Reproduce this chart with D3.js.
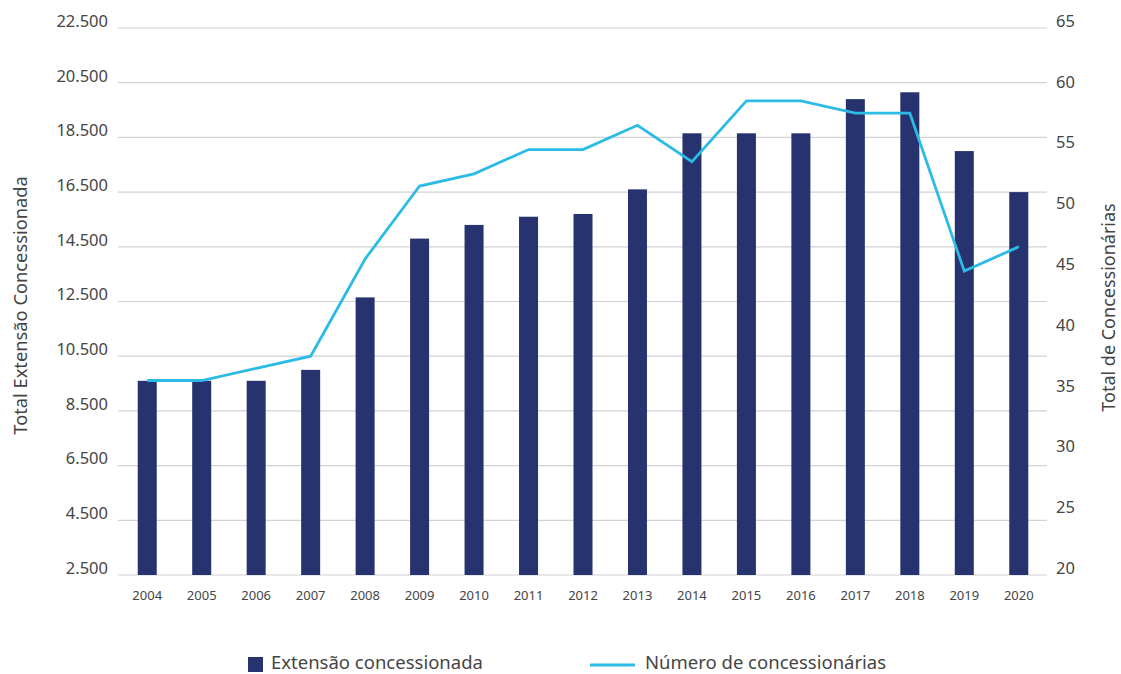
<!DOCTYPE html>
<html>
<head>
<meta charset="utf-8">
<script src="https://cdn.jsdelivr.net/npm/d3@7"></script>
<style>
  html, body { margin: 0; padding: 0; background: #fff; }
  svg { display: block; font-family: "Noto Sans", "Open Sans", sans-serif; }
</style>
</head>
<body>
<svg id="chart" width="1121" height="674"></svg>
<script>
// Rodovias concedidas: extensão total (km) e número de concessionárias por ano
const years = ["2004","2005","2006","2007","2008","2009","2010","2011","2012","2013","2014","2015","2016","2017","2018","2019","2020"];
const extensao = [9600, 9600, 9600, 10000, 12650, 14800, 15300, 15600, 15700, 16600, 18650, 18650, 18650, 19900, 20150, 18000, 16500];
const concessionarias = [36, 36, 37, 38, 46, 52, 53, 55, 55, 57, 54, 59, 59, 58, 58, 45, 47];
const leftTicks = [2500, 4500, 6500, 8500, 10500, 12500, 14500, 16500, 18500, 20500, 22500];
const rightTicks = [20, 25, 30, 35, 40, 45, 50, 55, 60, 65];
const leftTitle = "Total Extensão Concessionada";
const rightTitle = "Total de Concessionárias";
const legendLabels = ["Extensão concessionada", "Número de concessionárias"];

const barColor = "#27336f";
const lineColor = "#2cbbe6";
const gridColor = "#d2d2d6";
const textColor = "#454545";

const svg = d3.select("#chart");
const plot = { left: 118, right: 1047, top: 28, bottom: 575 };

const ptBR = d3.formatLocale({ decimal: ",", thousands: ".", grouping: [3], currency: ["R$", ""] });
const fmt = ptBR.format(",d");

const x = d3.scaleBand().domain(years).range([120, 1046]).paddingInner(0.651).paddingOuter(0.3255);
const yL = d3.scaleLinear().domain([2500, 22500]).range([plot.bottom, plot.top]);
const yR = d3.scaleLinear().domain([20, 65]).range([plot.bottom, plot.top]);

// grade horizontal
svg.append("g").selectAll("line").data(leftTicks).join("line")
  .attr("x1", plot.left).attr("x2", plot.right)
  .attr("y1", d => yL(d)).attr("y2", d => yL(d))
  .attr("stroke", gridColor).attr("stroke-width", 1.2);

// eixo esquerdo
const axL = svg.append("g").attr("transform", `translate(${plot.left - 10},0)`)
  .call(d3.axisLeft(yL).tickValues(leftTicks).tickFormat(fmt).tickSize(0).tickPadding(0));
axL.select(".domain").remove();
axL.selectAll("text").attr("fill", textColor).attr("font-size", 16.5).attr("font-family", "Noto Sans").attr("dy", "-0.1em");

// eixo direito
const axR = svg.append("g").attr("transform", `translate(${plot.right + 9},0)`)
  .call(d3.axisRight(yR).tickValues(rightTicks).tickSize(0).tickPadding(0));
axR.select(".domain").remove();
axR.selectAll("text").attr("fill", textColor).attr("font-size", 16.5).attr("font-family", "Noto Sans").attr("dy", "-0.1em");

// eixo x
const axX = svg.append("g").attr("transform", `translate(0,${plot.bottom + 16})`)
  .call(d3.axisBottom(x).tickSize(0).tickPadding(0));
axX.select(".domain").remove();
axX.selectAll("text").attr("fill", textColor).attr("font-size", 13).attr("font-family", "Noto Sans");

// barras
svg.append("g").selectAll("rect").data(years).join("rect")
  .attr("x", d => x(d)).attr("width", x.bandwidth())
  .attr("y", (d, i) => yL(extensao[i]))
  .attr("height", (d, i) => yL(2500) - yL(extensao[i]))
  .attr("fill", barColor);

// linha
const line = d3.line()
  .x((d, i) => x(years[i]) + x.bandwidth() / 2)
  .y(d => yR(d));
svg.append("path").datum(concessionarias)
  .attr("d", line).attr("fill", "none")
  .attr("stroke", lineColor).attr("stroke-width", 2.8).attr("stroke-linejoin", "miter");

// títulos dos eixos
svg.append("text")
  .attr("transform", `translate(27,${(plot.top + plot.bottom) / 2 + 4}) rotate(-90)`)
  .attr("text-anchor", "middle").attr("fill", textColor).attr("font-size", 18.3)
  .text(leftTitle);
svg.append("text")
  .attr("transform", `translate(1115,${(plot.top + plot.bottom) / 2 + 6}) rotate(-90)`)
  .attr("text-anchor", "middle").attr("fill", textColor).attr("font-size", 18)
  .text(rightTitle);

// legenda
const lg = svg.append("g");
lg.append("rect").attr("x", 248).attr("y", 657).attr("width", 15).attr("height", 15).attr("fill", barColor);
lg.append("text").attr("x", 271).attr("y", 669).attr("fill", textColor).attr("font-size", 18.5).text(legendLabels[0]);
lg.append("line").attr("x1", 590).attr("x2", 635).attr("y1", 665).attr("y2", 665)
  .attr("stroke", lineColor).attr("stroke-width", 2.8);
lg.append("text").attr("x", 645).attr("y", 669).attr("fill", textColor).attr("font-size", 18.5).text(legendLabels[1]);
</script>
</body>
</html>
